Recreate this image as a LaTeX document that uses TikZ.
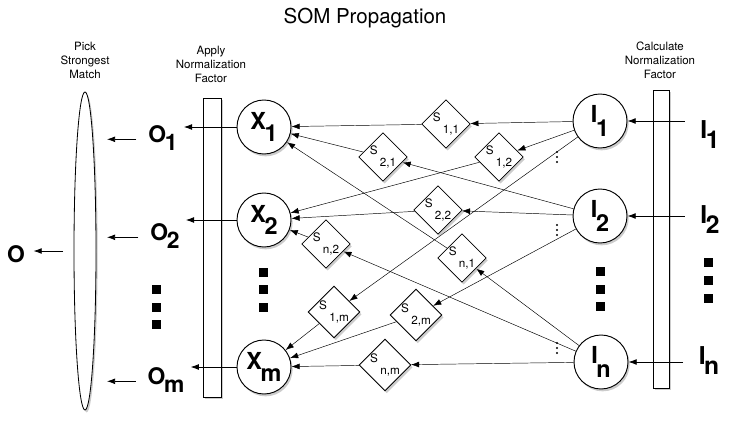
\documentclass[tikz,border=0pt]{standalone}
\usepackage{fontspec}
\setmainfont{TeX Gyre Heros}
\usepackage{tikz}
\usetikzlibrary{shapes.geometric, arrows.meta, shadows, backgrounds, calc}

% big bold letter with a lowered index
\newcommand{\sublab}[3]{#2\kern-0.06em\raisebox{-#1}{#3}}
% weight label S with its index
\newcommand{\wlab}[1]{S\kern2pt\raisebox{-10pt}{#1}}

\tikzset{
  softshadow/.style={drop shadow={opacity=0.4, shadow xshift=1.4pt, shadow yshift=-2pt}},
  unit/.style={circle, draw, fill=white, line width=0.8pt, inner sep=0pt,
    minimum size=1.62cm, font=\fontsize{20}{20}\bfseries, softshadow},
  weight/.style={diamond, aspect=1, draw, fill=white, inner sep=0pt,
    minimum size=1.44cm, font=\fontsize{10}{10}\selectfont, softshadow},
  bar/.style={rectangle, draw, fill=white, inner sep=0pt, softshadow},
  lab/.style={inner sep=0pt, font=\fontsize{19.5}{20}\bfseries},
  note/.style={align=center, font=\fontsize{9.8}{12}\selectfont},
  >={Latex[length=7pt,width=5pt]}
}

\begin{document}
\begin{tikzpicture}[x=0.03cm, y=-0.03cm, line width=0.7pt]
  \useasboundingbox (0,0) rectangle (730,424);

  % Title and column captions
  \node[font=\fontsize{17.5}{20}\selectfont] (title) at (365,18) {SOM Propagation};
  \node[note] (pickT) at (85,60) {Pick\\Strongest\\Match};
  \node[note] (applyT) at (211,64) {Apply\\Normalization\\Factor};
  \node[note] (calcT) at (660,60) {Calculate\\Normalization\\Factor};

  % Bars and the selector
  \node[ellipse, draw, fill=white, inner sep=0pt, minimum width=0.66cm,
    minimum height=9.54cm, softshadow] (pick) at (85,251) {};
  \node[bar, minimum width=0.54cm, minimum height=8.97cm] (applyN) at (212,247.5) {};
  \node[bar, minimum width=0.48cm, minimum height=8.94cm] (calcN) at (661,239) {};

  % Output units
  \node[unit] (X1) at (264,127) {\sublab{11pt}{X}{1}};
  \node[unit] (X2) at (264,220) {\sublab{11pt}{X}{2}};
  \node[unit] (Xm) at (264,367) {\sublab{11pt}{X}{m}};

  % Input units
  \node[unit] (I1) at (600,121) {\sublab{12pt}{I}{1}};
  \node[unit] (I2) at (600,216) {\sublab{12pt}{I}{2}};
  \node[unit] (In) at (601,362) {\sublab{12pt}{I}{n}};

  % Weights
  \node[weight] (s11) at (446,124) {\wlab{1,1}};
  \node[weight] (s21) at (383,157) {\wlab{2,1}};
  \node[weight] (s12) at (499,157) {\wlab{1,2}};
  \node[weight] (s22) at (438,210) {\wlab{2,2}};
  \node[weight] (sn2) at (326,244) {\wlab{n,2}};
  \node[weight] (sn1) at (462,258) {\wlab{n,1}};
  \node[weight] (s1m) at (334,312) {\wlab{1,m}};
  \node[weight] (s2m) at (416,315) {\wlab{2,m}};
  \node[weight] (snm) at (385,365) {\wlab{n,m}};

  % Labels
  \node[lab] (O1) at (163,138) {\sublab{7pt}{O}{1}};
  \node[lab] (O2) at (165,236) {\sublab{7pt}{O}{2}};
  \node[lab] (Om) at (166,380) {\sublab{7pt}{O}{m}};
  \node[lab] (Out) at (16,254) {O};
  \node[lab, font=\fontsize{21}{21}\bfseries] (in1) at (710,135) {\sublab{8.5pt}{I}{1}};
  \node[lab, font=\fontsize{21}{21}\bfseries] (in2) at (710,220) {\sublab{8.5pt}{I}{2}};
  \node[lab, font=\fontsize{21}{21}\bfseries] (inn) at (709,361) {\sublab{8.5pt}{I}{n}};

  % Small dots beside the inputs
  \foreach \y in {157,230,348}
    \foreach \d in {-5,0,5}
      \fill (557,\y+\d) circle (1.1);

  % Ellipsis squares
  \foreach \x/\y in {156/289, 156/307, 156/324, 263/272, 263/289, 263/307,
                     600/271, 600/289, 600/306, 708/262, 708/280, 708/298}
    \fill (\x-4.5,\y-4.5) rectangle ++(9,9);

  % Outputs through the normalization bar
  \foreach \r in {1,2,m}
    \draw[->] (X\r) -- ([xshift=5pt]X\r -| O\r.east);
  \foreach \r in {1,2,m}
    \draw[->, shorten <=10pt, shorten >=9pt] (O\r.mid west) -- (O\r.mid west -| pick.east);
  \draw[->, shorten <=9pt, shorten >=7pt] (pick.west) -- (pick.west -| Out.east);

  % Inputs through the normalization bar
  \draw[->, shorten <=13pt] (I1 -| in1.west) -- (I1);
  \draw[->, shorten <=13pt] (I2 -| in2.west) -- (I2);
  \draw[->, shorten <=13pt] (In -| inn.west) -- (In);

  % Weighted connections
  \begin{pgfonlayer}{background}
    \foreach \a/\b in {I1/s11, s11/X1, I1/s12, s12/X2, I2/s21, s21/X1,
                       I2/s22, s22/X2, In/sn1, sn1/X1, In/sn2, sn2/X2,
                       I1/s1m, s1m/Xm, I2/s2m, s2m/Xm, In/snm, snm/Xm}
      \draw[->] (\a) -- (\b);
  \end{pgfonlayer}
\end{tikzpicture}
\end{document}
